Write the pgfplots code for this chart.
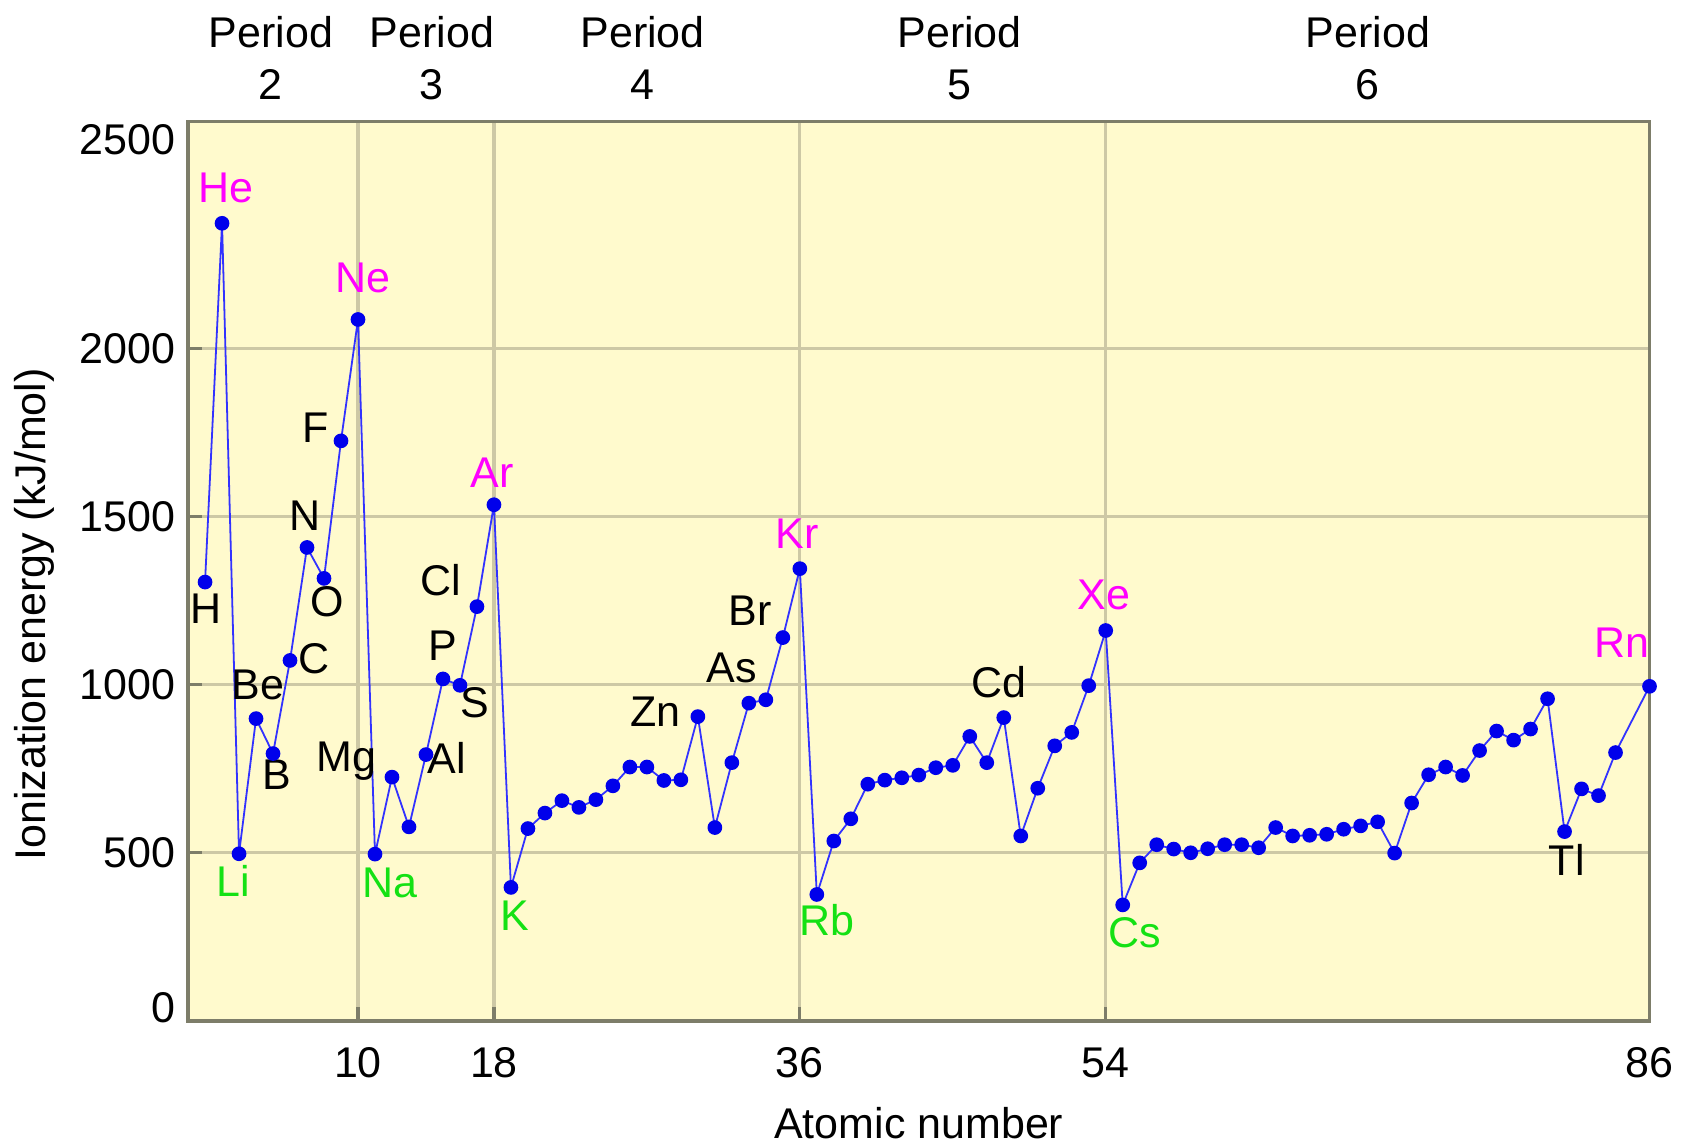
\documentclass[border=0pt]{standalone}
\usepackage{pgfplots}
\pgfplotsset{compat=1.18}
\usepackage{fontspec}
\setmainfont{Liberation Sans}
\definecolor{bgyellow}{RGB}{255,250,205}
\definecolor{gridc}{RGB}{205,200,165}
\definecolor{axisc}{RGB}{125,125,105}
\definecolor{lineblue}{RGB}{50,50,255}
\definecolor{ptblue}{RGB}{0,0,235}
\definecolor{noble}{RGB}{255,0,255}
\definecolor{alk}{RGB}{20,225,20}
\begin{document}
\begin{tikzpicture}[font=\fontsize{12}{14.4}\selectfont]
\begin{axis}[
 name=ax, at={(0,0)}, anchor=south west,
 scale only axis, width=408pt, height=251.1pt,
 xmin=0, xmax=86, ymin=0, ymax=2675,
 axis background/.style={fill=bgyellow},
 xtick={10,18,36,54,86},
 ytick={500,1000,1500,2000},
 extra y ticks={40,2620}, extra y tick labels={0,2500},
 extra y tick style={grid=none, major tick length=0pt},
 xmajorgrids, ymajorgrids,
 grid style={gridc, line width=0.9pt},
 axis line style={axisc, line width=1pt},
 tick style={axisc, line width=0.9pt},
 major tick length=4pt,
 xtick pos=bottom, ytick pos=left,
 tick align=inside,
 /pgf/number format/assume math mode=true,
 /pgf/number format/1000 sep={},
 ticklabel style={font=\fontsize{12}{14.4}\selectfont},
 xticklabel style={yshift=-4pt},
 xlabel={Atomic number}, ylabel={Ionization energy (kJ/mol)},
 xlabel style={at={(axis description cs:0.5,0)}, anchor=center, yshift=-28.5pt},
 ylabel style={at={(axis description cs:-0.105,0.452)}, anchor=center},
 clip=false,
]
\addplot[color=lineblue, line width=0.5pt, mark=*, mark size=1.8pt,
  mark options={fill=ptblue, draw=ptblue}] coordinates {
(1,1305) (2,2372) (3,497) (4,899) (5,795) (6,1072) (7,1408) (8,1316) (9,1725) (10,2086)
(11,496) (12,725) (13,577) (14,792) (15,1017) (16,998) (17,1232) (18,1535)
(19,397) (20,572) (21,618) (22,655) (23,635) (24,658) (25,699) (26,755) (27,755) (28,715)
(29,717) (30,905) (31,575) (32,768) (33,945) (34,955) (35,1140) (36,1345)
(37,376) (38,535) (39,601) (40,704) (41,716) (42,723) (43,731) (44,753) (45,760) (46,846)
(47,768) (48,902) (49,550) (50,692) (51,818) (52,858) (53,997) (54,1161)
(55,345) (56,470) (57,524) (58,511) (59,500) (60,512) (61,524) (62,524) (63,515) (64,575)
(65,550) (66,552) (67,555) (68,570) (69,580) (70,592) (71,499) (72,648) (73,732) (74,755)
(75,730) (76,804) (77,862) (78,835) (79,868) (80,958) (81,563) (82,690) (83,670) (84,798)
(86,995)
};
% element labels
\node[text=noble] at (axis cs:2.21,2476) {He};
\node[text=noble] at (axis cs:10.3,2211) {Ne};
\node[text=noble] at (axis cs:17.9,1629) {Ar};
\node[text=noble] at (axis cs:35.85,1450) {Kr};
\node[text=noble] at (axis cs:53.9,1268) {Xe};
\node[text=noble] at (axis cs:84.4,1125) {Rn};
\node[text=alk] at (axis cs:2.66,415) {Li};
\node[text=alk] at (axis cs:11.9,409) {Na};
\node[text=alk] at (axis cs:19.2,313) {K};
\node[text=alk] at (axis cs:37.6,300) {Rb};
\node[text=alk] at (axis cs:55.7,262) {Cs};
\node at (axis cs:1.07,1227) {H};
\node at (axis cs:4.1,1000) {Be};
\node at (axis cs:5.25,732) {B};
\node at (axis cs:7.4,1077) {C};
\node at (axis cs:6.9,1502) {N};
\node at (axis cs:8.16,1246) {O};
\node at (axis cs:7.5,1764) {F};
\node at (axis cs:9.3,773) {Mg};
\node at (axis cs:15.24,783) {Al};
\node at (axis cs:14.99,1115) {P};
\node at (axis cs:16.9,946) {S};
\node at (axis cs:14.86,1310) {Cl};
\node at (axis cs:27.5,920) {Zn};
\node at (axis cs:32.0,1051) {As};
\node at (axis cs:33.07,1220) {Br};
\node at (axis cs:47.74,1006) {Cd};
\node at (axis cs:81.13,479) {Tl};
% period labels
\node[align=center] at (axis cs:4.87,2863) {Period\\2};
\node[align=center] at (axis cs:14.35,2863) {Period\\3};
\node[align=center] at (axis cs:26.75,2863) {Period\\4};
\node[align=center] at (axis cs:45.4,2863) {Period\\5};
\node[align=center] at (axis cs:69.43,2863) {Period\\6};
\end{axis}
\pgfresetboundingbox
\path[use as bounding box] ([shift={(-52.5pt,-33.9pt)}]ax.south west) rectangle ([shift={(9.9pt,33.9pt)}]ax.north east);
\end{tikzpicture}
\end{document}
